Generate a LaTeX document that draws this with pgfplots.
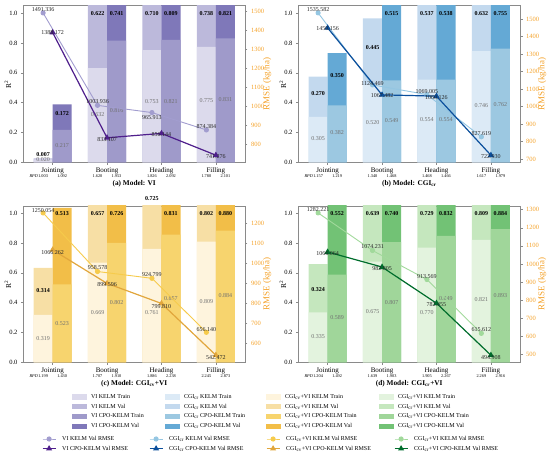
\documentclass[border=0pt]{standalone}
\usepackage{pgfplots}
\pgfplotsset{compat=1.18}
\usepackage{pgfplotstable}
\usepackage{fontspec}
\setmainfont{Liberation Serif}

\definecolor{axgray}{HTML}{8A8A8A}
\definecolor{rmseor}{HTML}{F4A22A}
\definecolor{trgray}{HTML}{707070}
% purple
\definecolor{pa1}{HTML}{DCDAEC}\definecolor{pa2}{HTML}{BCB9DB}\definecolor{pa3}{HTML}{9F9ACA}\definecolor{pa4}{HTML}{7F78B9}
\definecolor{pak}{HTML}{A29DCF}\definecolor{pac}{HTML}{4F1F8C}
% blue
\definecolor{pb1}{HTML}{DCEAF6}\definecolor{pb2}{HTML}{C3D9EE}\definecolor{pb3}{HTML}{9CC8E1}\definecolor{pb4}{HTML}{64A9D5}
\definecolor{pbk}{HTML}{94C6E2}\definecolor{pbc}{HTML}{0B4F9C}
% yellow
\definecolor{pc1}{HTML}{FEF4DD}\definecolor{pc2}{HTML}{F7DFA5}\definecolor{pc3}{HTML}{F7D46E}\definecolor{pc4}{HTML}{F2BE48}
\definecolor{pck}{HTML}{F6CB4C}\definecolor{pcc}{HTML}{E1A63C}
% green
\definecolor{pd1}{HTML}{E3F3DE}\definecolor{pd2}{HTML}{C5E7BE}\definecolor{pd3}{HTML}{A0D69A}\definecolor{pd4}{HTML}{72C275}
\definecolor{pdk}{HTML}{A1D99B}\definecolor{pdc}{HTML}{006D2C}

\pgfplotstableread{
i ktr kva ctr cva krmse crmse
0 0.020 0.007 0.217 0.172 1491.336 1388.172
1 0.632 0.622 0.816 0.741 1003.936 833.107
2 0.753 0.710 0.821 0.809 965.913 856.144
3 0.775 0.738 0.831 0.821 874.384 741.276
}\tabA
\pgfplotstableread{
i ktr kva ctr cva krmse crmse
0 0.305 0.270 0.382 0.350 1535.582 1450.156
1 0.520 0.445 0.549 0.515 1124.469 1067.482
2 0.554 0.537 0.554 0.538 1069.005 1060.126
3 0.746 0.632 0.762 0.755 827.619 722.930
}\tabB
\pgfplotstableread{
i ktr kva ctr cva krmse crmse
0 0.319 0.314 0.523 0.513 1250.054 1066.262
1 0.669 0.657 0.802 0.726 958.578 899.596
2 0.761 0.725 0.857 0.831 924.799 799.810
3 0.809 0.802 0.884 0.880 656.140 542.472
}\tabC
\pgfplotstableread{
i ktr kva ctr cva krmse crmse
0 0.335 0.324 0.589 0.552 1282.221 1066.064
1 0.675 0.639 0.807 0.740 1074.231 982.805
2 0.770 0.729 0.849 0.832 913.569 782.455
3 0.821 0.809 0.893 0.884 615.612 494.908
}\tabD

\pgfplotsset{
  panel/.style={
    scale only axis, width=221.5pt, height=156.5pt,
    xmin=-0.535, xmax=3.535,
    clip mode=individual,
    tick align=outside, major tick length=2.5pt,
    tick style={draw=axgray, line width=0.5pt},
    axis line style={draw=axgray, line width=0.6pt},
  },
  leftax/.style={panel, ymin=0, ymax=1.05,
    xtick={0,1,2,3}, xticklabels={Jointing,Booting,Heading,Filling},
    xtick pos=bottom, ytick pos=left,
    ytick={0,0.2,0.4,0.6,0.8,1.0},
    yticklabel style={font=\fontsize{6.5}{7}\selectfont, /pgf/number format/.cd, fixed, fixed zerofill, precision=1, assume math mode=true},
    xticklabel style={font=\fontsize{7}{8}\selectfont, anchor=center, yshift=-6.3pt},
    ylabel={R\textsuperscript{2}},
    every axis y label/.style={at={(axis description cs:-0.07,0.5)}, rotate=90, anchor=center, font=\fontsize{7.5}{8}\selectfont},
  },
  rightax/.style={panel, axis x line=none, axis y line*=right, scaled y ticks=false,
    yticklabel style={font=\fontsize{6.5}{7}\selectfont, text=rmseor, /pgf/number format/.cd, 1000 sep={}, assume math mode=true},
    ylabel={RMSE (kg/ha)},
    every axis y label/.style={at={(axis description cs:1.1,0.5)}, rotate=90, anchor=center, font=\fontsize{9}{10}\selectfont, text=rmseor},
  },
  legax/.style={hide axis, scale only axis, width=5pt, height=5pt, xmin=0, xmax=1, ymin=0, ymax=1,
    anchor=north west, legend cell align=left,
    legend style={at={(0,1)}, anchor=north west, draw=none, fill=none, inner sep=0pt, outer sep=0pt,
      font=\fontsize{6}{7}\selectfont, row sep=0.7pt,
      nodes={inner xsep=0pt, inner ysep=1.6pt, text height=4.4pt, text depth=1.4pt}},
  },
  patchleg/.style={legax, legend style={/tikz/every odd column/.append style={column sep=4pt}},
    legend image code/.code={\fill[##1] (0pt,-2.6pt) rectangle (15pt,2.6pt);}},
  lineleg/.style={legax, legend style={/tikz/every odd column/.append style={column sep=6pt}},
    legend image code/.code={\draw[mark repeat=2, mark phase=2, ##1] plot coordinates {(0pt,0pt) (6.5pt,0pt) (13pt,0pt)};}},
}
\tikzset{
  trl/.style={font=\fontsize{6}{7}\selectfont, text=trgray, inner sep=0pt},
  vall/.style={font=\fontsize{6}{7}\selectfont\bfseries, text=black, inner sep=0pt},
  rml/.style={font=\fontsize{6}{7}\selectfont, text=black!85, inner sep=0pt},
  rpdf/.style={font=\fontsize{4.3}{5}\selectfont, inner sep=0pt, yshift=-14pt},
  ttl/.style={font=\fontsize{7.3}{8}\selectfont\bfseries, anchor=base, yshift=-23.5pt},
}
\newcommand{\tl}[3]{\node[trl] at (axis cs:#1,#2) {#3};}
\newcommand{\vl}[3]{\node[vall] at (axis cs:#1,#2) {#3};}
\newcommand{\rl}[4]{\node[rml, yshift=#3pt] at (axis cs:#1,#2) {#4};}
\newcommand{\rpd}[2]{\node[rpdf] at (axis cs:#1,0) {#2};}
\newcommand{\bars}[5]{%
  \addplot[ybar, bar width=0.35, bar shift=0pt, fill=#3, draw=none] table[x expr=\thisrow{i}-0.175, y expr=\thisrow{ktr}+\thisrow{kva}] {#1};
  \addplot[ybar, bar width=0.35, bar shift=0pt, fill=#2, draw=none] table[x expr=\thisrow{i}-0.175, y=ktr] {#1};
  \addplot[ybar, bar width=0.35, bar shift=0pt, fill=#5, draw=none] table[x expr=\thisrow{i}+0.175, y expr=\thisrow{ctr}+\thisrow{cva}] {#1};
  \addplot[ybar, bar width=0.35, bar shift=0pt, fill=#4, draw=none] table[x expr=\thisrow{i}+0.175, y=ctr] {#1};
}
\newcommand{\lines}[3]{%
  \addplot[color=#2, line width=0.9pt, mark=*, mark size=2.1pt, mark options={solid, fill=#2}] table[x expr=\thisrow{i}-0.175, y=krmse] {#1};
  \addplot[color=#3, line width=1.2pt, mark=triangle*, mark size=2.4pt, mark options={solid, fill=#3}] table[x=i, y=crmse] {#1};
}

\begin{document}
\begin{tikzpicture}
\path[use as bounding box] (0pt,0pt) rectangle (550pt,456pt);

% ---------------- (a)
\begin{axis}[leftax, at={(23.5pt,293.7pt)}, anchor=south west]
\bars{\tabA}{pa1}{pa2}{pa3}{pa4}
\tl{-0.175}{0.02}{0.020} \vl{-0.175}{0.05}{0.007}
\tl{0.175}{0.11}{0.217} \vl{0.175}{0.33}{0.172}
\tl{0.825}{0.32}{0.632} \vl{0.825}{1.0}{0.622}
\tl{1.175}{0.35}{0.816} \vl{1.175}{1.0}{0.741}
\tl{1.825}{0.41}{0.753} \vl{1.825}{1.0}{0.710}
\tl{2.175}{0.41}{0.821} \vl{2.175}{1.0}{0.809}
\tl{2.825}{0.415}{0.775} \vl{2.825}{1.0}{0.738}
\tl{3.175}{0.42}{0.831} \vl{3.175}{1.0}{0.821}
\node[rpdf, anchor=east, xshift=-5pt] at (axis cs:-0.175,0) {\textit{RPD}};
\rpd{-0.175}{1.003}\rpd{0.175}{1.092}\rpd{0.825}{1.620}\rpd{1.175}{1.953}
\rpd{1.825}{1.826}\rpd{2.175}{2.092}\rpd{2.825}{1.780}\rpd{3.175}{2.101}
\node[ttl] at (axis description cs:0.5,0) {(a) Model: VI};
\end{axis}
\begin{axis}[rightax, at={(23.5pt,293.7pt)}, anchor=south west, ymin=703.77, ymax=1528.84, ytick={800,900,...,1500}]
\lines{\tabA}{pak}{pac}
\rl{-0.175}{1491.336}{3.5}{1491.336}
\rl{0}{1388.172}{-0.5}{1388.172}
\rl{0.825}{1003.936}{3.5}{1003.936}
\rl{1}{833.107}{-1.5}{833.107}
\rl{1.825}{965.913}{-5}{965.913}
\rl{2}{856.144}{-1}{856.144}
\rl{2.825}{874.384}{3.3}{874.384}
\rl{3}{741.276}{-1}{741.276}
\end{axis}

% ---------------- (b)
\begin{axis}[leftax, at={(298.5pt,293.7pt)}, anchor=south west]
\bars{\tabB}{pb1}{pb2}{pb3}{pb4}
\tl{-0.175}{0.16}{0.305} \vl{-0.175}{0.46}{0.270}
\tl{0.175}{0.20}{0.382} \vl{0.175}{0.58}{0.350}
\tl{0.825}{0.27}{0.520} \vl{0.825}{0.77}{0.445}
\tl{1.175}{0.28}{0.549} \vl{1.175}{1.0}{0.515}
\tl{1.825}{0.285}{0.554} \vl{1.825}{1.0}{0.537}
\tl{2.175}{0.285}{0.554} \vl{2.175}{1.0}{0.538}
\tl{2.825}{0.378}{0.746} \vl{2.825}{1.0}{0.632}
\tl{3.175}{0.385}{0.762} \vl{3.175}{1.0}{0.755}
\node[rpdf, anchor=east, xshift=-5pt] at (axis cs:-0.175,0) {\textit{RPD}};
\rpd{-0.175}{1.157}\rpd{0.175}{1.219}\rpd{0.825}{1.340}\rpd{1.175}{1.468}
\rpd{1.825}{1.468}\rpd{2.175}{1.466}\rpd{2.825}{1.617}\rpd{3.175}{1.979}
\node[ttl] at (axis description cs:0.5,0) {(b) Model: CGI\textsubscript{cr}};
\end{axis}
\begin{axis}[rightax, at={(298.5pt,293.7pt)}, anchor=south west, ymin=682.30, ymax=1576.21, ytick={700,800,...,1500}]
\lines{\tabB}{pbk}{pbc}
\rl{-0.175}{1535.582}{3.5}{1535.582}
\rl{0}{1450.156}{-1}{1450.156}
\rl{0.825}{1124.469}{1.7}{1124.469}
\rl{1}{1067.482}{-1}{1067.482}
\rl{1.825}{1069.005}{3.3}{1069.005}
\rl{2}{1060.126}{-1.7}{1060.126}
\rl{2.825}{827.619}{3.3}{827.619}
\rl{3}{722.930}{-1}{722.930}
\end{axis}

% ---------------- (c)
\begin{axis}[leftax, at={(23.5pt,93.7pt)}, anchor=south west]
\bars{\tabC}{pc1}{pc2}{pc3}{pc4}
\tl{-0.175}{0.16}{0.319} \vl{-0.175}{0.48}{0.314}
\tl{0.175}{0.26}{0.523} \vl{0.175}{1.0}{0.513}
\tl{0.825}{0.335}{0.669} \vl{0.825}{1.0}{0.657}
\tl{1.175}{0.40}{0.802} \vl{1.175}{1.0}{0.726}
\tl{1.825}{0.335}{0.761} \vl{1.825}{1.1}{0.725}
\tl{2.175}{0.43}{0.857} \vl{2.175}{1.0}{0.831}
\tl{2.825}{0.41}{0.809} \vl{2.825}{1.0}{0.802}
\tl{3.175}{0.445}{0.884} \vl{3.175}{1.0}{0.880}
\node[rpdf, anchor=east, xshift=-5pt] at (axis cs:-0.175,0) {\textit{RPD}};
\rpd{-0.175}{1.199}\rpd{0.175}{1.430}\rpd{0.825}{1.707}\rpd{1.175}{1.910}
\rpd{1.825}{1.886}\rpd{2.175}{2.238}\rpd{2.825}{2.245}\rpd{3.175}{2.873}
\node[ttl] at (axis description cs:0.5,0) {(c) Model: CGI\textsubscript{cv}+VI};
\end{axis}
\begin{axis}[rightax, at={(23.5pt,93.7pt)}, anchor=south west, ymin=507.09, ymax=1285.43, ytick={600,700,...,1200}]
\lines{\tabC}{pck}{pcc}
\rl{-0.175}{1250.054}{2.5}{1250.054}
\rl{0}{1066.262}{-3}{1066.262}
\rl{0.825}{958.578}{4}{958.578}
\rl{1}{899.596}{-1.3}{899.596}
\rl{1.825}{924.799}{3.6}{924.799}
\rl{2}{799.810}{-3}{799.810}
\rl{2.825}{656.140}{3}{656.140}
\rl{3}{542.472}{-2}{542.472}
\end{axis}

% ---------------- (d)
\begin{axis}[leftax, at={(298.5pt,93.7pt)}, anchor=south west]
\bars{\tabD}{pd1}{pd2}{pd3}{pd4}
\tl{-0.175}{0.17}{0.335} \vl{-0.175}{0.49}{0.324}
\tl{0.175}{0.30}{0.589} \vl{0.175}{1.0}{0.552}
\tl{0.825}{0.34}{0.675} \vl{0.825}{1.0}{0.639}
\tl{1.175}{0.40}{0.807} \vl{1.175}{1.0}{0.740}
\tl{1.825}{0.335}{0.770} \vl{1.825}{1.0}{0.729}
\tl{2.175}{0.427}{0.849} \vl{2.175}{1.0}{0.832}
\tl{2.825}{0.418}{0.821} \vl{2.825}{1.0}{0.809}
\tl{3.175}{0.45}{0.893} \vl{3.175}{1.0}{0.884}
\node[rpdf, anchor=east, xshift=-5pt] at (axis cs:-0.175,0) {\textit{RPD}};
\rpd{-0.175}{1.204}\rpd{0.175}{1.492}\rpd{0.825}{1.639}\rpd{1.175}{1.903}
\rpd{1.825}{1.905}\rpd{2.175}{2.267}\rpd{2.825}{2.269}\rpd{3.175}{2.916}
\node[ttl] at (axis description cs:0.5,0) {(d) Model: CGI\textsubscript{cr}+VI};
\end{axis}
\begin{axis}[rightax, at={(298.5pt,93.7pt)}, anchor=south west, ymin=455.54, ymax=1321.59, ytick={500,600,...,1300}]
\lines{\tabD}{pdk}{pdc}
\rl{-0.175}{1282.221}{3}{1282.221}
\rl{0}{1066.064}{-2}{1066.064}
\rl{0.825}{1074.231}{4}{1074.231}
\rl{1}{982.805}{-2}{982.805}
\rl{1.825}{913.569}{3}{913.569}
\rl{2}{782.455}{-1.7}{782.455}
\rl{2.825}{615.612}{3.4}{615.612}
\rl{3}{494.908}{-2}{494.908}
\end{axis}

% ---------------- legends
\begin{axis}[patchleg, at={(72pt,63.5pt)}]
\addlegendimage{fill=pa1, draw=none}\addlegendentry{VI KELM Train}
\addlegendimage{fill=pa2, draw=none}\addlegendentry{VI KELM Val}
\addlegendimage{fill=pa3, draw=none}\addlegendentry{VI CPO-KELM Train}
\addlegendimage{fill=pa4, draw=none}\addlegendentry{VI CPO-KELM Val}
\end{axis}
\begin{axis}[patchleg, at={(165pt,63.5pt)}]
\addlegendimage{fill=pb1, draw=none}\addlegendentry{CGI\textsubscript{cr} KELM Train}
\addlegendimage{fill=pb2, draw=none}\addlegendentry{CGI\textsubscript{cr} KELM Val}
\addlegendimage{fill=pb3, draw=none}\addlegendentry{CGI\textsubscript{cr} CPO-KELM Train}
\addlegendimage{fill=pb4, draw=none}\addlegendentry{CGI\textsubscript{cr} CPO-KELM Val}
\end{axis}
\begin{axis}[patchleg, at={(266pt,63.5pt)}]
\addlegendimage{fill=pc1, draw=none}\addlegendentry{CGI\textsubscript{cv}+VI KELM Train}
\addlegendimage{fill=pc2, draw=none}\addlegendentry{CGI\textsubscript{cv}+VI KELM Val}
\addlegendimage{fill=pc3, draw=none}\addlegendentry{CGI\textsubscript{cv}+VI CPO-KELM Train}
\addlegendimage{fill=pc4, draw=none}\addlegendentry{CGI\textsubscript{cv}+VI CPO-KELM Val}
\end{axis}
\begin{axis}[patchleg, at={(379pt,63.5pt)}]
\addlegendimage{fill=pd1, draw=none}\addlegendentry{CGI\textsubscript{cr}+VI KELM Train}
\addlegendimage{fill=pd2, draw=none}\addlegendentry{CGI\textsubscript{cr}+VI KELM Val}
\addlegendimage{fill=pd3, draw=none}\addlegendentry{CGI\textsubscript{cr}+VI CPO-KELM Train}
\addlegendimage{fill=pd4, draw=none}\addlegendentry{CGI\textsubscript{cr}+VI CPO-KELM Val}
\end{axis}
\begin{axis}[lineleg, at={(42pt,21.5pt)}]
\addlegendimage{color=pak, line width=0.9pt, mark=*, mark size=2.1pt}\addlegendentry{VI KELM Val RMSE}
\addlegendimage{color=pac, line width=1.2pt, mark=triangle*, mark size=2.4pt}\addlegendentry{VI CPO-KELM Val RMSE}
\end{axis}
\begin{axis}[lineleg, at={(149pt,21.5pt)}]
\addlegendimage{color=pbk, line width=0.9pt, mark=*, mark size=2.1pt}\addlegendentry{CGI\textsubscript{cr} KELM Val RMSE}
\addlegendimage{color=pbc, line width=1.2pt, mark=triangle*, mark size=2.4pt}\addlegendentry{CGI\textsubscript{cr} CPO-KELM Val RMSE}
\end{axis}
\begin{axis}[lineleg, at={(266pt,21.5pt)}]
\addlegendimage{color=pck, line width=0.9pt, mark=*, mark size=2.1pt}\addlegendentry{CGI\textsubscript{cv}+VI KELM Val RMSE}
\addlegendimage{color=pcc, line width=1.2pt, mark=triangle*, mark size=2.4pt}\addlegendentry{CGI\textsubscript{cv}+VI CPO-KELM Val RMSE}
\end{axis}
\begin{axis}[lineleg, at={(394pt,21.5pt)}]
\addlegendimage{color=pdk, line width=0.9pt, mark=*, mark size=2.1pt}\addlegendentry{CGI\textsubscript{cr}+VI KELM Val RMSE}
\addlegendimage{color=pdc, line width=1.2pt, mark=triangle*, mark size=2.4pt}\addlegendentry{CGI\textsubscript{cr}+VI CPO-KELM Val RMSE}
\end{axis}
\end{tikzpicture}
\end{document}
